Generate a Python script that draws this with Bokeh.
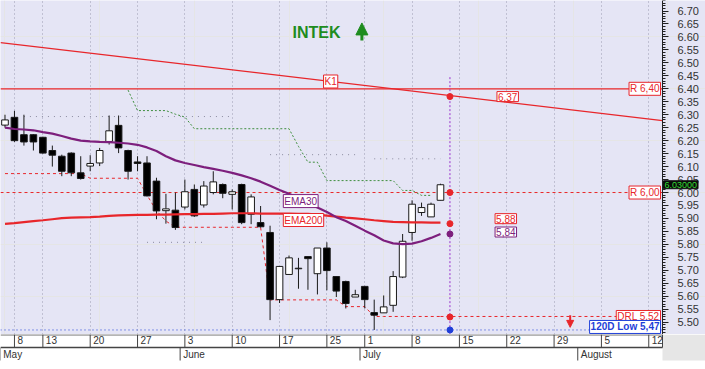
import pandas as pd
from bokeh.plotting import figure
from bokeh.models import (Range1d, LinearAxis, SingleIntervalTicker, FixedTicker,
                          Label, Arrow, NormalHead, Grid, NumeralTickFormatter)
from bokeh.layouts import column
from bokeh.embed import file_html
from bokeh.resources import INLINE
from bokeh.core.properties import value

# ---------------- data ----------------
holidays = ["2013-06-24"]
trade_days = [d.strftime("%Y-%m-%d") for d in pd.bdate_range("2013-05-07", "2013-08-16")
              if d.strftime("%Y-%m-%d") not in holidays]

candle_dates = trade_days[:47]
opens = [6.26, 6.29, 6.223, 6.223, 6.213, 6.162, 6.140, 6.152, 6.076, 6.102,
         6.114, 6.197, 6.259, 6.162, 6.118, 6.114, 6.044, 5.930, 5.932, 5.944,
         6.012, 5.952, 6.000, 6.031, 5.993, 6.031, 5.916, 5.884, 5.846, 5.587,
         5.684, 5.706, 5.753, 5.687, 5.786, 5.676, 5.657, 5.597, 5.638, 5.537,
         5.536, 5.565, 5.674, 5.846, 5.923, 5.906, 5.970]
highs = [6.30, 6.315, 6.300, 6.225, 6.215, 6.181, 6.146, 6.155, 6.140, 6.144,
         6.172, 6.297, 6.297, 6.165, 6.140, 6.140, 6.057, 5.995, 6.000, 6.050,
         6.031, 6.044, 6.082, 6.035, 6.012, 6.034, 5.993, 5.948, 5.872, 5.715,
         5.757, 5.748, 5.753, 5.786, 5.808, 5.676, 5.660, 5.625, 5.640, 5.587,
         5.603, 5.697, 5.840, 5.970, 5.961, 5.961, 6.034]
lows = [6.25, 6.195, 6.181, 6.162, 6.150, 6.100, 6.063, 6.063, 6.050, 6.082,
        6.102, 6.185, 6.152, 6.050, 6.082, 5.985, 5.897, 5.880, 5.856, 5.935,
        5.906, 5.942, 5.993, 5.978, 5.935, 5.878, 5.878, 5.865, 5.508, 5.574,
        5.684, 5.629, 5.625, 5.607, 5.623, 5.597, 5.553, 5.597, 5.553, 5.470,
        5.536, 5.540, 5.670, 5.814, 5.910, 5.906, 5.970]
closes = [6.28, 6.20, 6.195, 6.195, 6.152, 6.144, 6.082, 6.076, 6.054, 6.112,
          6.162, 6.238, 6.172, 6.082, 6.112, 5.987, 5.929, 5.937, 5.865, 6.003,
          5.910, 6.025, 6.041, 5.997, 6.003, 5.884, 5.983, 5.868, 5.587, 5.715,
          5.748, 5.708, 5.745, 5.786, 5.699, 5.620, 5.572, 5.606, 5.587, 5.527,
          5.559, 5.676, 5.812, 5.955, 5.942, 5.955, 6.030]

ema30 = [6.250, 6.245, 6.243, 6.240, 6.233, 6.227, 6.218, 6.208, 6.200, 6.197,
         6.195, 6.194, 6.192, 6.189, 6.184, 6.174, 6.160, 6.140, 6.124, 6.114,
         6.106, 6.098, 6.091, 6.084, 6.076, 6.066, 6.055, 6.042, 6.026, 6.010,
         5.995, 5.978, 5.960, 5.942, 5.925, 5.905, 5.890, 5.872, 5.853, 5.835,
         5.815, 5.804, 5.801, 5.803, 5.812, 5.825, 5.840]
ema200 = [5.879, 5.882, 5.886, 5.890, 5.893, 5.897, 5.901, 5.903, 5.904, 5.905,
          5.907, 5.910, 5.912, 5.913, 5.914, 5.914, 5.915, 5.915, 5.916, 5.917,
          5.917, 5.918, 5.918, 5.919, 5.920, 5.920, 5.920, 5.919, 5.919, 5.919,
          5.919, 5.918, 5.918, 5.915, 5.911, 5.907, 5.903, 5.900, 5.897, 5.893,
          5.890, 5.887, 5.886, 5.885, 5.885, 5.884, 5.884]

stop_dates = trade_days[13:46]
stop_vals = [6.395, 6.316, 6.316, 6.316, 6.316, 6.302, 6.291, 6.246, 6.246, 6.246,
             6.246, 6.246, 6.246, 6.246, 6.246, 6.246, 6.246, 6.246, 6.178, 6.117,
             6.117, 6.046, 6.046, 6.046, 6.046, 6.046, 6.046, 6.046, 6.046, 6.008,
             6.008, 5.989, 5.989]

drl_dates = trade_days[:47]
drl_vals = [6.073] * 9 + [6.055] * 6 + [5.99, 5.93, 5.89] + [5.866] * 10 + \
           [5.586] * 8 + [5.560] * 3 + [5.522] * 8

grey_starts = ["2013-05-09", "2013-06-14", "2013-07-02", "2013-05-28"]
grey_ends = ["2013-06-10", "2013-06-28", "2013-07-11", "2013-06-05"]
grey_levels = [6.293, 6.146, 6.130, 5.808]

week_tick_dates = ["2013-05-08", "2013-05-13", "2013-05-20", "2013-05-27", "2013-06-03",
                   "2013-06-10", "2013-06-17", "2013-06-25", "2013-07-01", "2013-07-08",
                   "2013-07-15", "2013-07-22", "2013-07-29", "2013-08-05", "2013-08-12"]
week_tick_labels = ["8", "13", "20", "27", "3", "10", "17", "25", "1", "8",
                    "15", "22", "29", "5", "12"]
month_dates = ["2013-05-07", "2013-06-03", "2013-07-01", "2013-08-01"]
month_labels = ["May", "June", "July", "August"]

resist_hi = 6.40
resist_lo = 6.00
drl_level = 5.52
low_120d = 5.47
k1_dates = ["2013-05-07", "2013-07-12"]
k1_vals = [6.576, 6.374]
k1_proj = 6.37
ema200_last = 5.88
ema30_last = 5.84
last_price = 6.03
signal_date = "2013-07-12"

# ---------------- layout constants ----------------
xi = {d: i for i, d in enumerate(trade_days)}
RED = "#E8262B"
PURPLE = "#7D1F7D"
BLUE = "#1F3FD8"
GREEN = "#1E8C1E"
BG = "#E5E5F5"
FONT = "Liberation Sans"

PX = 9.467                    # pixels per trading day
X0 = -0.475
X_AX = X0 + 662 / PX          # where the price axis sits
X_END = X0 + 705 / PX
Y0, Y1 = 5.4525, 6.7405
xr = Range1d(X0, X_END)
yr = Range1d(Y0, Y1)

p = figure(frame_width=705, frame_height=334, x_range=xr, y_range=yr,
           output_backend="svg", toolbar_location=None,
           x_axis_location=None, y_axis_location=None,
           min_border_left=0, min_border_top=0, min_border_bottom=0, min_border_right=0,
           background_fill_color=BG, border_fill_color=BG,
           outline_line_color=None)

week_idx = [xi[d] for d in week_tick_dates]
p.add_layout(Grid(dimension=0, ticker=FixedTicker(ticks=week_idx),
                  grid_line_color="#9A9AB0", grid_line_dash="1 3"))

yax = LinearAxis(ticker=SingleIntervalTicker(interval=0.05, num_minor_ticks=5),
                 formatter=NumeralTickFormatter(format="0.00"), fixed_location=X_AX,
                 major_tick_out=6, major_tick_in=0, minor_tick_out=3, minor_tick_in=0,
                 major_label_standoff=9, major_label_text_font=FONT,
                 major_label_text_font_size="11px", major_label_text_color="#333333",
                 axis_line_color="#222222", major_tick_line_color="#222222",
                 minor_tick_line_color="#222222")
p.add_layout(yax, "right")

# grey dotted swing levels
p.segment(x0=[xi[d] for d in grey_starts], x1=[xi[d] for d in grey_ends],
          y0=grey_levels, y1=grey_levels, line_color="#8C8CA0", line_dash="1 5", line_width=1)

# horizontal levels
p.segment(x0=[X0], x1=[X_AX], y0=[resist_hi], y1=[resist_hi], line_color=RED, line_width=1.3)
p.segment(x0=[X0], x1=[X_AX], y0=[resist_lo], y1=[resist_lo], line_color=RED, line_width=1, line_dash="3 3")
p.segment(x0=[X0], x1=[X_AX], y0=[low_120d], y1=[low_120d], line_color=BLUE, line_width=1, line_dash="1 3")
p.segment(x0=[xi[drl_dates[-1]]], x1=[X_AX], y0=[drl_vals[-1]], y1=[drl_vals[-1]],
          line_color=RED, line_width=1, line_dash="3 3")

# K1 trendline (through its two anchor points, extended across the frame)
g = (k1_vals[1] - k1_vals[0]) / (xi[k1_dates[1]] - xi[k1_dates[0]])
b = k1_vals[0] - g * xi[k1_dates[0]]
p.segment(x0=[X0], x1=[X_AX], y0=[b + g * X0], y1=[b + g * X_AX], line_color=RED, line_width=1.2)

# DRL stepped line & trailing stop
p.line([xi[d] for d in drl_dates], drl_vals, line_color=RED, line_width=1, line_dash="3 3")
p.line([xi[d] for d in stop_dates], stop_vals, line_color="#3E8E3E", line_width=1, line_dash="2 2")

# signal vertical line
sig = xi[signal_date]
p.segment(x0=[sig], x1=[sig], y0=[6.445], y1=[Y0], line_color="#9933CC", line_dash="2 2", line_width=1)

# candles
cx = [xi[d] for d in candle_dates]
p.segment(x0=cx, x1=cx, y0=highs, y1=lows, line_color="#1A1A1A", line_width=1)
tops = [max(o, c) for o, c in zip(opens, closes)]
bots = [min(o, c) for o, c in zip(opens, closes)]
fills = ["white" if c >= o else "black" for o, c in zip(opens, closes)]
p.vbar(x=cx, width=0.7, top=tops, bottom=bots, fill_color=fills, line_color="#1A1A1A", line_width=1)

# EMAs
p.line(cx, ema200, line_color=RED, line_width=2.2)
p.line(cx, ema30, line_color=PURPLE, line_width=2.2)

# dots
p.scatter(x=[sig] * 6, y=[k1_proj, resist_lo, ema200_last, ema30_last, drl_level, low_120d],
          fill_color=[RED, RED, RED, PURPLE, RED, BLUE],
          line_color=[RED, RED, RED, PURPLE, RED, BLUE], size=6)

# arrows
p.add_layout(Arrow(x_start=37.7, y_start=6.586, x_end=37.7, y_end=6.654,
                   end=NormalHead(size=12, fill_color=GREEN, line_color=GREEN),
                   line_color=GREEN, line_width=3))
p.add_layout(Arrow(x_start=59.7, y_start=5.527, x_end=59.7, y_end=5.480,
                   end=NormalHead(size=7, fill_color=RED, line_color=RED),
                   line_color=RED, line_width=2))


def box(x, y, text, color, align="center", xo=0, yo=0, bold=False, fill="white",
        tcolor=None, size="10px", border=True):
    p.add_layout(Label(x=x, y=y, text=text, x_offset=xo, y_offset=yo,
                       text_align=align, text_baseline="middle", text_font=FONT,
                       text_font_size=size, text_font_style="bold" if bold else "normal",
                       text_color=tcolor or color, background_fill_color=fill,
                       border_line_color=color if border else None, border_line_width=1,
                       padding=1))


box(32.9, 6.617, "INTEK", GREEN, bold=True, fill=None, size="16px", border=False)
box(34.4, b + g * 34.4, "K1", RED)
box(53.1, k1_proj, "6,37", RED)
box(X_AX, resist_hi, "R 6,40", RED, align="right", xo=-2)
box(X_AX, resist_lo, "R 6,00", RED, align="right", xo=-2)
box(X_AX, drl_level, "DRL 5,52", RED, align="right", xo=-2)
box(X_AX, low_120d, "120D Low 5,47", BLUE, align="right", xo=-2, yo=3, bold=True)
box(52.9, ema200_last, "5,88", RED, yo=5)
box(52.9, ema30_last, "5,84", PURPLE, yo=2)
box(29.4, 5.967, "EMA30", PURPLE, align="left")
box(29.4, 5.894, "EMA200", RED, align="left")
box(X_AX, last_price, "6.03000", "#111111", align="left", xo=1, fill="#0A0A0A",
    tcolor="#33DD33", size="9px")

# ---------------- date strip ----------------
s = figure(frame_width=705, frame_height=35, x_range=xr, y_range=Range1d(0, 35),
           output_backend="svg", toolbar_location=None,
           x_axis_location=None, y_axis_location=None,
           min_border_left=0, min_border_top=0, min_border_bottom=0, min_border_right=0,
           background_fill_color="white", border_fill_color="white",
           outline_line_color=None)
s.xgrid.visible = False
s.ygrid.visible = False
s.quad(left=[X_AX], right=[X_END], bottom=[9], top=[35], fill_color="#E6E6E6", line_color=None)
s.segment(x0=week_idx, x1=week_idx, y0=[35] * len(week_idx), y1=[22] * len(week_idx),
          line_color="#444444", line_width=1)
s.segment(x0=[X0], x1=[X_AX], y0=[22], y1=[22], line_color="#444444", line_width=1.5)
s.segment(x0=[X0], x1=[X_AX], y0=[34.6], y1=[34.6], line_color="#444444", line_width=1)
s.segment(x0=[X_AX], x1=[X_AX], y0=[35], y1=[22], line_color="#444444", line_width=1)
s.text(x=week_idx, y=[34] * len(week_idx), text=week_tick_labels, x_offset=3,
       text_align="left", text_baseline="top", text_font=value(FONT),
       text_font_size="10px", text_color="#333333")
mb = [xi[d] - 0.5 for d in month_dates]
s.segment(x0=mb, x1=mb, y0=[22] * len(mb), y1=[9] * len(mb), line_color="#444444", line_width=1)
s.text(x=mb, y=[20.5] * len(mb), text=month_labels, x_offset=3,
       text_align="left", text_baseline="top", text_font=value(FONT),
       text_font_size="10px", text_color="#333333")

layout = column(p, s, spacing=0)
open("out.html", "w").write(file_html(layout, INLINE))
